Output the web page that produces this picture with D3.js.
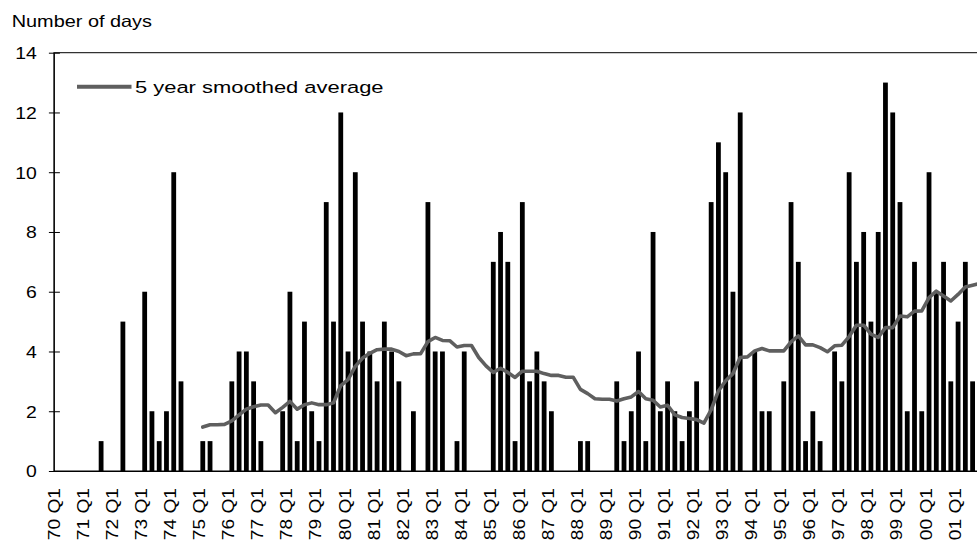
<!DOCTYPE html>
<html>
<head>
<meta charset="utf-8">
<script src="https://cdn.jsdelivr.net/npm/d3@7"></script>
<style>
  html, body { margin: 0; padding: 0; background: #fff; overflow: hidden; }
  svg { display: block; font-family: "Liberation Sans", Arial, sans-serif; }
</style>
</head>
<body>
<svg id="chart" width="977" height="547"></svg>
<script>
// ---- Data ----
const years = ["70","71","72","73","74","75","76","77","78","79","80","81","82","83","84","85",
               "86","87","88","89","90","91","92","93","94","95","96","97","98","99","00","01"];
const categories = [];
years.forEach(y => { for (let q = 1; q <= 4; q++) categories.push(y + " Q" + q); });

// Number of days per quarter (70 Q1 .. 01 Q4); null = not visible in source
const days = [
  0,0,0,0,    0,0,1,0,    0,5,0,0,    6,2,1,2,
  10,3,0,0,   1,1,0,0,    3,4,4,3,    1,0,0,2,
  6,1,5,2,    1,9,5,12,   4,10,5,4,   3,5,4,3,
  0,2,0,9,    4,4,0,1,    4,0,0,0,    7,8,7,1,
  9,3,4,3,    2,0,0,0,    1,1,0,0,    0,3,1,2,
  4,1,8,2,    3,2,1,2,    3,0,9,11,   10,6,12,0,
  4,2,2,0,    3,9,7,1,    2,1,0,4,    3,10,7,8,
  5,8,13,12,  9,2,7,2,    10,6,7,3,   5,7,3,null
];

// 5 year smoothed average, starting at 75 Q1
const avgStart = "75 Q1";
const smoothed = [
  1.47,1.55,1.55,1.56,  1.68,1.88,2.07,2.15,  2.21,2.21,1.95,2.13,
  2.33,2.07,2.22,2.28,  2.22,2.22,2.28,2.86,  3.06,3.5,3.78,3.94,
  4.06,4.08,4.08,4.0,   3.86,3.92,3.93,4.33,  4.47,4.37,4.36,4.15,
  4.2,4.2,3.8,3.52,     3.3,3.44,3.3,3.13,    3.34,3.34,3.34,3.26,
  3.2,3.2,3.14,3.14,    2.73,2.59,2.42,2.4,   2.4,2.34,2.42,2.48,
  2.66,2.42,2.37,2.14,  2.2,1.88,1.79,1.76,   1.72,1.6,2.05,2.68,
  3.02,3.26,3.8,3.82,   4.02,4.1,4.02,4.02,   4.02,4.32,4.52,4.22,
  4.22,4.13,3.99,4.19,  4.21,4.5,4.88,4.88,   4.58,4.47,4.8,4.8,
  5.19,5.16,5.35,5.36,  5.8,6.02,5.86,5.69,   5.91,6.16,6.22,6.28
];

const yTicks = [0,2,4,6,8,10,12,14];
const xTickLabels = categories.filter(c => c.endsWith("Q1"));

const yTitle = "Number of days";
const legendLabel = "5 year smoothed average";

// ---- Layout ----
const svg = d3.select("#chart");
const plot = { left: 53.9, top: 52.7, bottom: 471, right: 53.9 + 128 * 7.2625 };

const x = d3.scaleBand().domain(categories)
  .range([plot.left, plot.right]).paddingInner(0.34).paddingOuter(0.17);
const y = d3.scaleLinear().domain([0, 14]).range([plot.bottom, plot.top]);

// plot top border (extends beyond right edge)
svg.append("rect")
  .attr("x", plot.left).attr("y", plot.top)
  .attr("width", plot.right - plot.left).attr("height", plot.bottom - plot.top)
  .attr("fill", "none").attr("stroke", "#000").attr("stroke-width", 1);

// bars
const barData = categories.map((c, i) => ({ c, v: days[i] })).filter(d => d.v != null && d.v > 0);
svg.append("g").selectAll("rect").data(barData).join("rect")
  .attr("x", d => x(d.c)).attr("width", x.bandwidth())
  .attr("y", d => y(d.v)).attr("height", d => y(0) - y(d.v))
  .attr("fill", "#000");

// smoothed line
const s0 = categories.indexOf(avgStart);
const lineData = smoothed.map((v, i) => ({ c: categories[s0 + i], v }));
svg.append("path").datum(lineData)
  .attr("fill", "none").attr("stroke", "#5f5f5f").attr("stroke-width", 3.6)
  .attr("stroke-linejoin", "round").attr("stroke-linecap", "round")
  .attr("d", d3.line().x(d => x(d.c) + x.bandwidth() / 2).y(d => y(d.v)));

// y axis
const yAxis = svg.append("g").attr("transform", `translate(${plot.left},0)`)
  .call(d3.axisLeft(y).tickValues(yTicks).tickSize(5).tickSizeOuter(0).tickFormat(d3.format("d")));
yAxis.select(".domain").attr("stroke", "#000");
yAxis.selectAll(".tick line").attr("x1", 6).attr("stroke", "#000");
yAxis.selectAll(".tick text")
  .attr("x", null).attr("dy", "0.36em")
  .attr("transform", "translate(-17,0) scale(1.19,1)")
  .attr("text-anchor", "end")
  .style("font-size", "16.3px").attr("fill", "#000");

// x axis
const xAxis = svg.append("g").attr("transform", `translate(0,${plot.bottom})`)
  .call(d3.axisBottom(x).tickValues(xTickLabels).tickSize(0).tickSizeOuter(0));
xAxis.select(".domain").attr("stroke", "#000");
xAxis.selectAll(".tick text")
  .attr("y", null).attr("dy", null)
  .attr("transform", "translate(2.5,17) rotate(-90) scale(1.14,1)")
  .attr("text-anchor", "end")
  .style("font-size", "16.8px").attr("fill", "#000");

// y title
svg.append("text").attr("transform", "translate(11.7,26.7) scale(1.22,1)")
  .style("font-size", "16.3px").attr("fill", "#000").text(yTitle);

// legend
svg.append("line").attr("x1", 77).attr("x2", 131.5).attr("y1", 86.7).attr("y2", 86.7)
  .attr("stroke", "#5f5f5f").attr("stroke-width", 4);
svg.append("text").attr("transform", "translate(135,92.7) scale(1.29,1)")
  .style("font-size", "17px").attr("fill", "#000").text(legendLabel);
</script>
</body>
</html>
